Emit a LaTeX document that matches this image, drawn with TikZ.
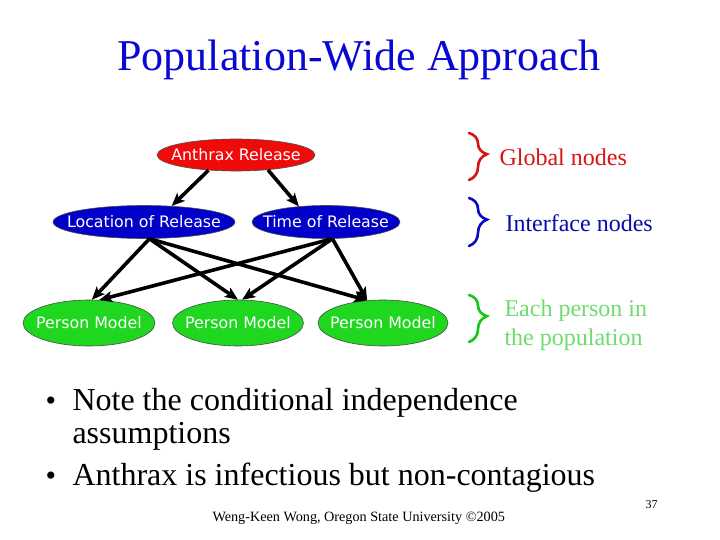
\documentclass[tikz,border=0pt]{standalone}
\usepackage{fontspec}
\setmainfont{Liberation Serif}
\newfontfamily\vfont{DejaVu Sans}
\usetikzlibrary{shapes.geometric,arrows.meta,decorations.pathreplacing}
\definecolor{tblue}{RGB}{8,8,210}
\definecolor{nred}{RGB}{240,10,10}
\definecolor{nblue}{RGB}{0,0,200}
\definecolor{ngreen}{RGB}{30,215,30}
\definecolor{lblue}{RGB}{10,10,170}
\definecolor{lgreen}{RGB}{110,220,110}
\definecolor{bred}{RGB}{215,20,20}
\definecolor{bblue}{RGB}{10,10,190}
\definecolor{bgreen}{RGB}{20,200,20}
\tikzset{
  bn/.style={ellipse, draw=black!70, line width=0.6pt, inner sep=0pt},
  bntext/.style={text=white, inner sep=0pt, font=\vfont\fontsize{15.8}{18}\selectfont},
  edge/.style={line width=3.6pt, -{Stealth[length=13pt,width=11pt,inset=3pt]}},
  brc/.style={decorate, decoration={brace, amplitude=18pt, aspect=0.45}, line width=2.6pt, line cap=round},
  lab/.style={anchor=west, align=left, font=\fontsize{24}{29}\selectfont},
  bul/.style={anchor=base west, font=\fontsize{32}{32}\selectfont},
  dot/.style={anchor=base west, font=\fontsize{30}{30}\selectfont},
}
\begin{document}
\begin{tikzpicture}[x=1pt,y=-1pt]
\useasboundingbox (0,0) rectangle (720,540);
\fill[white] (0,0) rectangle (720,540);
\node[text=tblue, font=\fontsize{44}{50}\selectfont] (title) at (359,60) {Population-Wide Approach};

\node[bn, fill=nred, minimum width=158pt, minimum height=32pt,
  label={[bntext]center:Anthrax Release}] (ar) at (236,155) {};
\node[bn, fill=nblue, minimum width=182pt, minimum height=33pt,
  label={[bntext]center:Location of Release}] (loc) at (144,222) {};
\node[bn, fill=nblue, minimum width=148pt, minimum height=33pt,
  label={[bntext]center:Time of Release}] (tim) at (326,222) {};
\node[bn, fill=ngreen, minimum width=132pt, minimum height=46pt,
  label={[bntext]center:Person Model}] (p1) at (89,323) {};
\node[bn, fill=ngreen, minimum width=131pt, minimum height=46pt,
  label={[bntext]center:Person Model}] (p2) at (238,323) {};
\node[bn, fill=ngreen, minimum width=130pt, minimum height=46pt,
  label={[bntext]center:Person Model}] (p3) at (383,323) {};

\draw[edge] (ar.209) -- (loc.30);
\draw[edge] (ar.335) -- (tim.150);
\draw[edge] (loc.288) -- (p1.83);
\draw[edge] (loc.288) -- (p2.90);
\draw[edge] (loc.288) -- (p3.125);
\draw[edge] (tim.291) -- (p1.66);
\draw[edge] (tim.291) -- (p2.80);
\draw[edge] (tim.291) -- (p3.125);

\coordinate (r1) at (469,133); \coordinate (r2) at (469,180);
\coordinate (b1) at (469,198); \coordinate (b2) at (469,246);
\coordinate (g1) at (469,295); \coordinate (g2) at (469,342);
\draw[brc, draw=bred] (r1) -- (r2);
\draw[brc, draw=bblue] (b1) -- (b2);
\draw[brc, draw=bgreen] (g1) -- (g2);

\node[lab, text=bred] (gl) at (496,157) {Global nodes};
\node[lab, text=lblue] (il) at (502,223) {Interface nodes};
\node[lab, text=lgreen] (el) at (501,325) {Each person in\\the population};

\node[dot] (d1) at (42,410) {\textbullet};
\node[bul] (b1t) at (69,410) {Note the conditional independence};
\node[bul] (b1u) at (69,443) {assumptions};
\node[dot] (d2) at (42,485) {\textbullet};
\node[bul] (b2t) at (69,485) {Anthrax is infectious but non-contagious};

\node[anchor=base west, font=\fontsize{14.2}{14}\selectfont] (foot) at (209,521) {Weng-Keen Wong, Oregon State University \textcopyright2005};
\node[anchor=base west, font=\fontsize{12}{12}\selectfont] (pg) at (642,508) {37};
\end{tikzpicture}
\end{document}
